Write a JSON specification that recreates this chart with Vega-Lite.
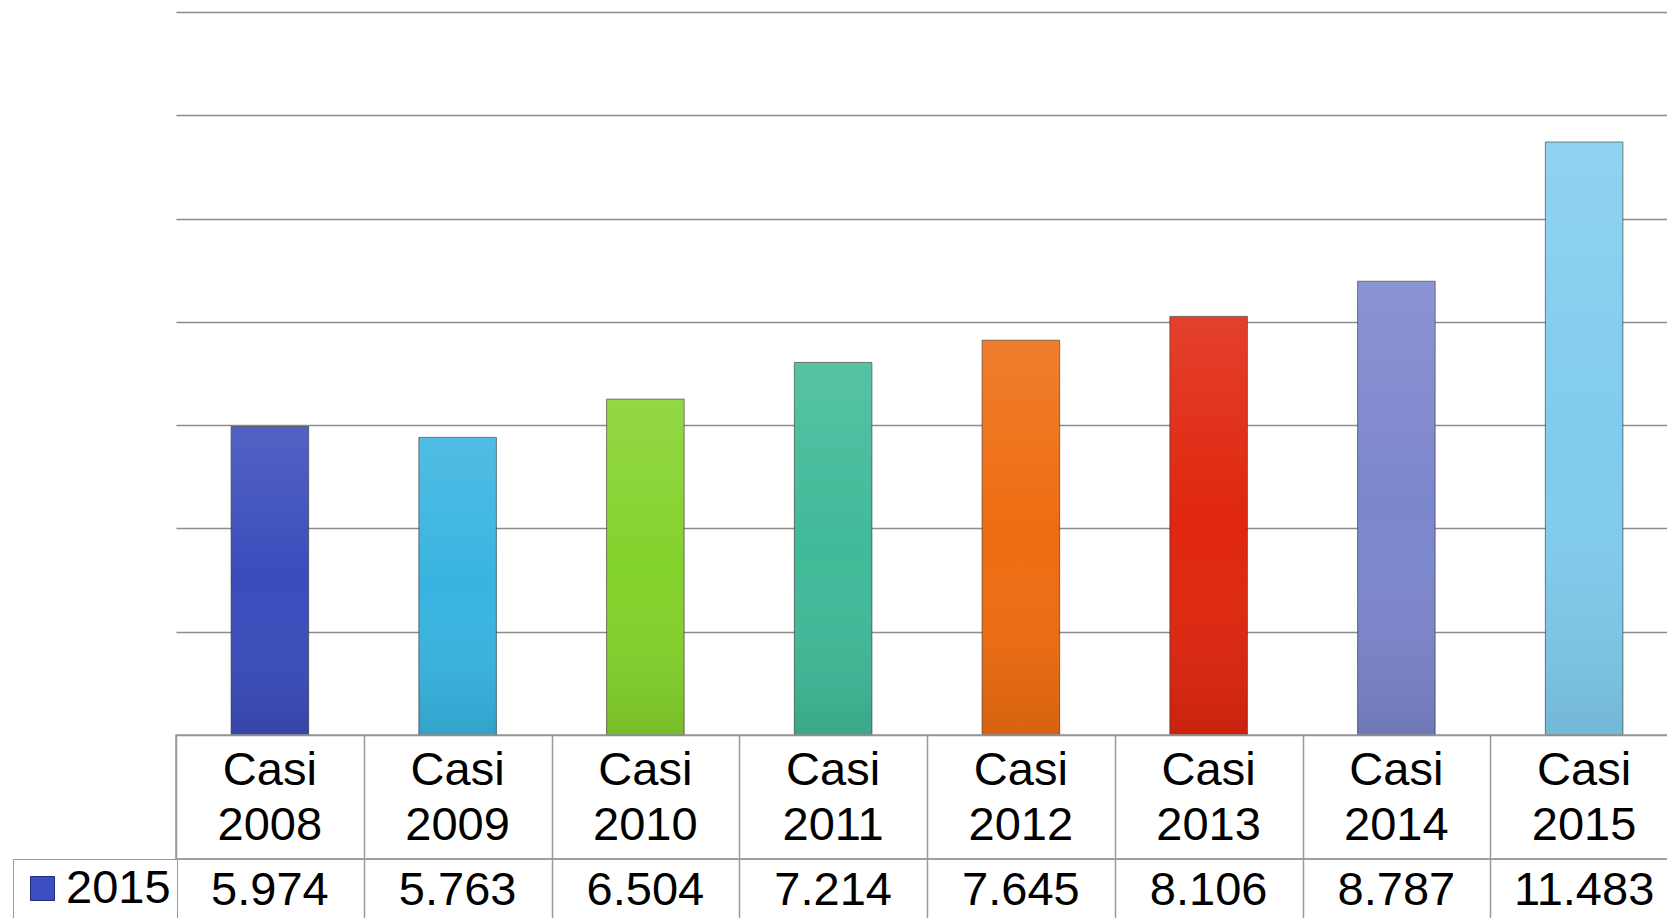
{
  "$schema": "https://vega.github.io/schema/vega-lite/v6.json",
  "padding": {"left": 11, "top": 12, "right": 0, "bottom": 0},
  "background": "white",
  "spacing": 0,
  "bounds": "flush",
  "config": {
    "view": {"stroke": null},
    "font": "Liberation Sans",
    "locale": {"number": {"decimal": ",", "thousands": ".", "grouping": [3], "currency": ["€", ""]}}
  },
  "data": {"values": [
    {"anno": "Casi 2008", "casi": 5974},
    {"anno": "Casi 2009", "casi": 5763},
    {"anno": "Casi 2010", "casi": 6504},
    {"anno": "Casi 2011", "casi": 7214},
    {"anno": "Casi 2012", "casi": 7645},
    {"anno": "Casi 2013", "casi": 8106},
    {"anno": "Casi 2014", "casi": 8787},
    {"anno": "Casi 2015", "casi": 11483}
  ]},
  "resolve": {"scale": {"color": "independent"}, "legend": {"color": "independent"}},
  "vconcat": [
    {
      "width": 1502,
      "height": 723,
      "encoding": {
        "x": {"field": "anno", "type": "nominal", "sort": null, "axis": null, "scale": {"paddingInner": 0, "paddingOuter": 0}},
        "y": {"field": "casi", "type": "quantitative", "scale": {"domain": [0, 14000], "nice": false},
          "axis": {"values": [0, 2000, 4000, 6000, 8000, 10000, 12000, 14000], "labels": false, "ticks": false, "domain": false, "grid": true, "gridColor": "#8c8c8c", "gridWidth": 1.5, "title": null}}
      },
      "layer": [
        {
          "mark": {"type": "bar", "width": {"band": 0.413}, "stroke": "#2a2a2a", "strokeWidth": 1, "strokeOpacity": 0.6},
          "encoding": {
            "color": {"field": "anno", "type": "nominal", "sort": null, "legend": null,
              "scale": {"range": ["#3a4cbc", "#38b4e0", "#84d22c", "#40ba98", "#ee6c10", "#e0260e", "#7c86cc", "#80ccee"]}}
          }
        },
        {
          "mark": {"type": "bar", "width": {"band": 0.413}, "strokeWidth": 0,
            "color": {"gradient": "linear", "x1": 0, "y1": 0, "x2": 0, "y2": 1, "stops": [{"offset": 0, "color": "rgba(255,255,255,0.12)"}, {"offset": 0.5, "color": "rgba(255,255,255,0)"}, {"offset": 1, "color": "rgba(0,0,0,0.1)"}]}},
          "encoding": {}
        }
      ]
    },
    {
      "width": 1502,
      "height": 124,
      "view": {"stroke": "#999999", "strokeWidth": 1.5},
      "mark": {"type": "text", "fontSize": 47, "lineBreak": " ", "lineHeight": 55, "baseline": "middle", "dy": -26, "color": "black"},
      "encoding": {
        "x": {"field": "anno", "type": "nominal", "sort": null,
          "axis": {"labels": false, "ticks": false, "domain": false, "grid": true, "tickBand": "extent", "gridColor": "#999999", "gridWidth": 1.5, "title": null}},
        "text": {"field": "anno"}
      }
    },
    {
      "width": 1502,
      "height": 60,
      "view": {"stroke": "#999999", "strokeWidth": 1.5},
      "layer": [
        {
          "mark": {"type": "text", "fontSize": 47, "baseline": "middle", "dy": 2, "color": "black"},
          "encoding": {
            "x": {"field": "anno", "type": "nominal", "sort": null,
              "axis": {"labels": false, "ticks": false, "domain": false, "grid": true, "tickBand": "extent", "gridColor": "#999999", "gridWidth": 1.5, "title": null}},
            "text": {"field": "casi", "type": "quantitative", "format": ",d"}
          }
        },
        {
          "mark": {"type": "point", "shape": "square", "filled": true, "opacity": 0},
          "encoding": {
            "color": {"datum": "2015", "type": "nominal", "scale": {"range": ["#3a4ec2"]},
              "legend": {"orient": "none", "legendX": -163, "legendY": 0, "title": null, "symbolType": "square", "symbolSize": 576, "symbolOpacity": 1, "symbolStrokeColor": "#1d2a80", "symbolStrokeWidth": 1, "labelFontSize": 47, "labelFont": "Liberation Sans", "labelColor": "black", "labelOffset": 0, "padding": 6, "strokeColor": "#999999", "fillColor": "white"}}
          }
        }
      ]
    }
  ]
}
